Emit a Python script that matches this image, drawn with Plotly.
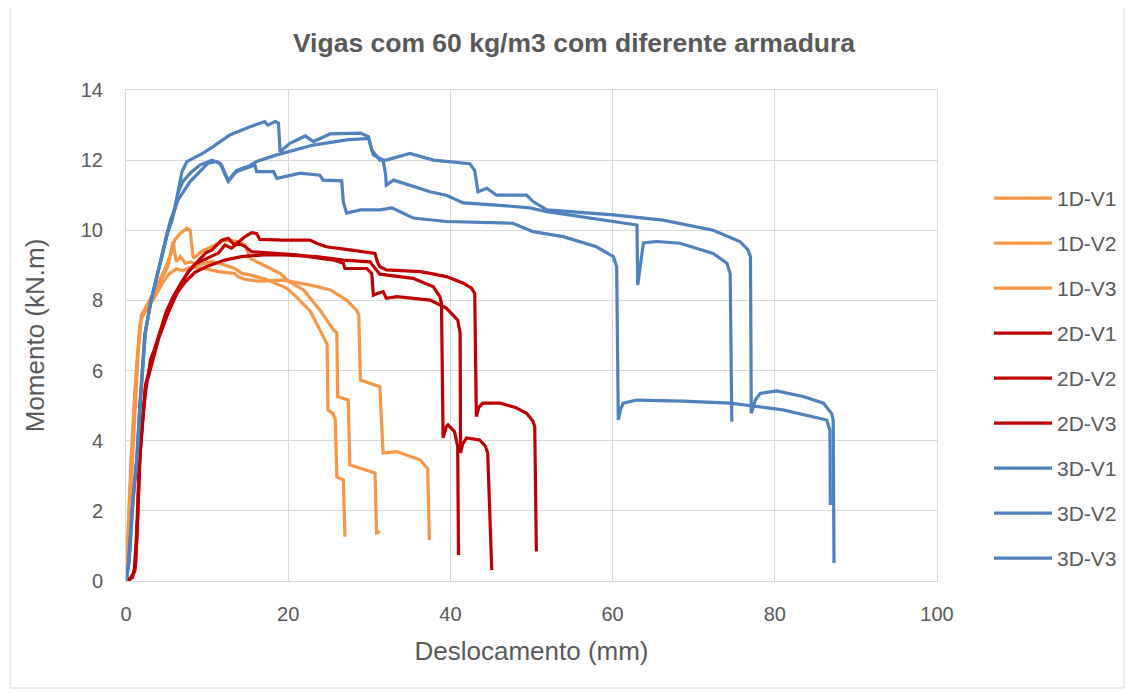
import plotly.graph_objects as go

# deslocamento (mm) / momento (kN.m)
d1_v1_x = [0, 0.3, 0.7, 1.1, 1.5, 1.9, 2.5, 3.2, 4.0, 4.6, 5.2, 5.8, 6.2, 6.7, 7.3, 8.0, 8.9, 10.6, 12.2, 13.4,
           14.3, 15.4, 17.3, 19.8, 21.0, 22.7, 23.9, 24.5, 24.8, 24.9, 25.5, 25.8, 26.0, 26.8, 27.0]
d1_v1_y = [0, 1.5, 3.6, 5.4, 6.7, 7.6, 7.8, 8.1, 8.4, 8.7, 9.0, 9.68, 9.11, 9.25, 9.06, 9.1, 9.01, 9.11, 9.01, 8.91,
           8.77, 8.72, 8.6, 8.35, 8.1, 7.7, 7.16, 6.85, 6.75, 4.88, 4.78, 4.6, 2.97, 2.88, 1.26]

d1_v2_x = [0, 0.25, 0.6, 1.0, 1.3, 1.7, 2.2, 2.8, 3.6, 4.4, 5.0, 5.6, 6.0, 6.7, 7.5, 7.9, 8.1, 8.3, 9.3, 10.6,
           11.8, 12.6, 13.8, 14.7, 15.3, 17.8, 19.0, 20.2, 21.9, 23.9, 25.6, 26.0, 26.1, 27.4, 27.6, 30.7,
           30.9, 31.3]
d1_v2_y = [0, 1.4, 3.4, 5.0, 6.1, 7.3, 7.7, 7.95, 8.3, 8.7, 9.0, 9.39, 9.72, 9.91, 10.06, 10.01, 9.58, 9.2, 9.39,
           9.53, 9.68, 9.72, 9.68, 9.58, 9.2, 8.91, 8.77, 8.53, 8.3, 7.73, 7.16, 7.07, 5.26, 5.16, 3.31, 3.08,
           1.37, 1.41]

d1_v3_x = [0, 0.3, 0.7, 1.1, 1.5, 1.9, 2.4, 3.0, 3.8, 4.5, 5.3, 6.2, 7.0, 8.0, 9.7, 11.4, 13.4, 13.8, 14.7,
           16.3, 19.4, 22.7, 25.2, 27.2, 28.4, 28.7, 28.9, 31.3, 31.7, 33.4, 36.3, 37.2, 37.4]
d1_v3_y = [0, 1.3, 3.3, 5.1, 6.5, 7.5, 7.7, 7.9, 8.2, 8.5, 8.75, 8.9, 8.85, 8.95, 8.91, 8.82, 8.77, 8.68, 8.6,
           8.55, 8.58, 8.44, 8.3, 8.01, 7.73, 7.6, 5.73, 5.54, 3.65, 3.69, 3.45, 3.2, 1.17]

d2_v1_x = [0, 0.6, 1.1, 1.4, 1.7, 2.1, 2.4, 2.8, 3.0, 3.5, 3.9, 4.4, 5.0, 5.8, 6.8, 7.8, 8.8, 9.8, 10.6, 11.8,
           12.6, 13.4, 14.7, 15.5, 16.1, 16.5, 19.4, 22.7, 23.5, 24.7, 27.6, 30.7, 31.0, 31.3, 32.1, 36.3,
           37.5, 39.5, 41.6, 42.6, 43.0, 43.2, 43.5, 44.0, 46.1, 48.0, 49.4, 50.2, 50.4, 50.6]
d2_v1_y = [0, 0.1, 0.3, 1.5, 3.6, 4.9, 5.6, 5.9, 6.3, 6.6, 6.9, 7.3, 7.7, 8.1, 8.5, 8.85, 9.1, 9.35, 9.44, 9.72,
           9.77, 9.58, 9.82, 9.93, 9.91, 9.74, 9.72, 9.72, 9.63, 9.53, 9.44, 9.34, 9.1, 8.96, 8.87, 8.82,
           8.77, 8.68, 8.49, 8.35, 8.2, 4.69, 4.95, 5.07, 5.07, 4.95, 4.78, 4.55, 4.4, 0.84]

d2_v2_x = [0, 0.5, 1.0, 1.3, 1.6, 2.0, 2.4, 3.0, 3.8, 4.6, 5.8, 6.4, 7.4, 8.5, 10.1, 12.2, 14.2, 17.0, 19.4,
           23.5, 26.8, 30.1, 30.6, 31.3, 35.4, 37.9, 38.7, 38.9, 39.1, 39.5, 39.7, 40.5, 40.9, 41.0]
d2_v2_y = [0, 0.05, 0.25, 1.3, 3.2, 4.5, 5.5, 6.2, 6.8, 7.35, 7.96, 8.25, 8.55, 8.8, 8.98, 9.15, 9.25, 9.3, 9.3,
           9.25, 9.15, 9.1, 8.95, 8.75, 8.63, 8.39, 8.11, 7.92, 4.08, 4.4, 4.45, 4.26, 3.83, 0.74]

d2_v3_x = [0, 0.8, 1.2, 1.5, 1.8, 2.2, 2.6, 3.2, 4.0, 4.8, 5.6, 6.6, 7.6, 8.6, 10.1, 11.4, 12.2, 13.0, 13.8,
           14.6, 15.5, 18.4, 21.0, 25.6, 26.8, 27.0, 29.7, 30.3, 30.5, 31.0, 31.7, 32.1, 33.4, 37.5, 39.5,
           40.9, 41.2, 41.25, 41.5, 42.0, 43.6, 44.3, 44.6, 45.1]
d2_v3_y = [0, 0.1, 0.5, 2.2, 3.9, 5.0, 5.7, 6.2, 6.9, 7.4, 7.9, 8.4, 8.8, 9.05, 9.2, 9.35, 9.58, 9.49, 9.63,
           9.55, 9.39, 9.34, 9.3, 9.15, 9.06, 8.91, 8.91, 8.77, 8.15, 8.2, 8.25, 8.06, 8.11, 8.01, 7.78,
           7.44, 7.07, 3.65, 3.9, 4.08, 4.02, 3.85, 3.65, 0.31]

d3_v1_x = [0, 0.3, 0.8, 1.3, 1.7, 2.3, 3.0, 3.6, 4.3, 5.0, 5.5, 6.0, 6.5, 6.9, 7.5, 8.3, 9.5, 10.7, 12.8, 15.3,
           16.5, 17.1, 17.5, 18.4, 18.8, 19.0, 20.2, 22.1, 23.1, 25.2, 28.9, 29.9, 30.3, 31.3, 32.1, 35.0,
           37.9, 42.4, 43.0, 43.4, 44.5, 45.7, 49.4, 50.2, 51.9, 60.1, 66.2, 72.4, 75.7, 76.7, 77.0, 77.1,
           77.6, 78.2, 80.2, 83.5, 86.0, 87.0, 87.2, 87.3]
d3_v1_y = [0, 0.5, 2.2, 3.4, 5.0, 7.0, 7.9, 8.5, 9.2, 9.9, 10.3, 10.6, 11.2, 11.67, 11.96, 12.06, 12.2, 12.38,
           12.72, 12.95, 13.06, 13.1, 13.0, 13.1, 13.06, 12.24, 12.48, 12.69, 12.53, 12.75, 12.77, 12.67,
           12.29, 12.0, 12.0, 12.19, 12.0, 11.9, 11.7, 11.1, 11.2, 11.0, 11.0, 10.82, 10.58, 10.44, 10.29,
           10.0, 9.68, 9.44, 9.25, 4.78, 5.16, 5.35, 5.42, 5.26, 5.07, 4.78, 4.6, 0.51]

d3_v2_x = [0, 0.4, 0.9, 1.4, 1.8, 2.4, 3.1, 3.7, 4.4, 5.1, 5.7, 6.4, 7.0, 8.0, 9.1, 10.6, 11.6, 12.6, 13.6,
           15.3, 15.9, 16.1, 18.2, 18.6, 20.2, 21.5, 23.9, 24.3, 26.6, 26.8, 27.2, 28.9, 31.3, 32.8, 35.4,
           39.5, 47.7, 50.2, 53.9, 58.0, 60.1, 60.5, 60.7, 61.0, 61.3, 63.0, 68.7, 74.5, 77.3, 81.0, 86.4,
           86.8, 86.85]
d3_v2_y = [0, 0.6, 2.4, 3.6, 5.2, 7.1, 8.0, 8.6, 9.3, 9.9, 10.3, 11.06, 11.39, 11.65, 11.86, 12.0, 11.91, 11.39,
           11.67, 11.8, 11.86, 11.67, 11.67, 11.48, 11.57, 11.63, 11.57, 11.43, 11.41, 10.8, 10.49, 10.58,
           10.58, 10.64, 10.35, 10.25, 10.2, 9.96, 9.82, 9.53, 9.25, 8.96, 4.59, 4.9, 5.07, 5.16, 5.13, 5.07,
           4.99, 4.88, 4.59, 4.3, 2.17]

d3_v3_x = [0, 0.35, 0.85, 1.35, 1.75, 2.35, 3.05, 3.65, 4.35, 5.05, 5.6, 6.4, 7.9, 10.1, 11.2, 11.8, 12.6,
           13.6, 15.3, 16.1, 18.6, 21.5, 23.1, 27.2, 29.9, 30.5, 31.7, 32.0, 32.1, 33.0, 35.0, 36.3, 37.5,
           39.5, 41.6, 45.7, 49.8, 51.9, 60.1, 63.0, 63.1, 63.8, 65.4, 68.3, 72.4, 74.1, 74.5, 74.7]
d3_v3_y = [0, 0.5, 2.3, 3.5, 5.1, 7.05, 7.95, 8.55, 9.25, 9.9, 10.3, 10.86, 11.39, 11.91, 11.96, 11.85, 11.42,
           11.7, 11.85, 11.96, 12.15, 12.34, 12.43, 12.58, 12.62, 12.15, 12.0, 11.6, 11.29, 11.43, 11.29,
           11.2, 11.1, 11.0, 10.78, 10.72, 10.64, 10.53, 10.25, 10.15, 8.44, 9.64, 9.68, 9.63, 9.34, 9.06,
           8.77, 4.54]

names = ["1D-V1", "1D-V2", "1D-V3", "2D-V1", "2D-V2", "2D-V3", "3D-V1", "3D-V2", "3D-V3"]
xs = [d1_v1_x, d1_v2_x, d1_v3_x, d2_v1_x, d2_v2_x, d2_v3_x, d3_v1_x, d3_v2_x, d3_v3_x]
ys = [d1_v1_y, d1_v2_y, d1_v3_y, d2_v1_y, d2_v2_y, d2_v3_y, d3_v1_y, d3_v2_y, d3_v3_y]
colors = ["#F79646"] * 3 + ["#C00000"] * 3 + ["#4F81BD"] * 3

grey = "#595959"
fig = go.Figure()
for name, x, y, c in zip(names, xs, ys, colors):
    fig.add_trace(go.Scatter(x=x, y=y, name=name, mode="lines", legendgroup=name,
                             line=dict(color=c, width=3.2)))

# page has an 8px body margin, so figure px = page px - 8
OFF = 8
L, R, T, B = 126 - OFF, 937 - OFF, 90 - OFF, 581 - OFF
FW, FH = 1134, 693
W, H = R - L, B - T
fig.add_shape(type="rect", xref="paper", yref="paper",
              x0=(10 - OFF - L) / W, x1=(1124 - OFF - L) / W,
              y0=(B - (688 - OFF)) / H, y1=(B - (6 - OFF)) / H,
              line=dict(color="#D9D9D9", width=1), layer="below")

fig.update_layout(
    width=FW, height=FH,
    margin=dict(l=L, r=FW - R, t=T, b=FH - B),
    paper_bgcolor="white", plot_bgcolor="white",
    font=dict(family="Liberation Sans, Arial, sans-serif", color=grey, size=21),
    title=dict(text="<b>Vigas com 60 kg/m3 com diferente armadura</b>", x=(574 - OFF) / FW, xanchor="center",
               y=1 - (43 - OFF) / FH, yanchor="middle", font=dict(size=26.5, color=grey)),
    legend=dict(x=(989 - OFF - L) / W, xanchor="left", y=(B - (178 - OFF)) / H, yanchor="top",
                font=dict(size=21, color=grey), tracegroupgap=14.7, itemwidth=58,
                bgcolor="rgba(0,0,0,0)"),
    showlegend=True,
)
fig.update_xaxes(range=[0, 100], dtick=20, tick0=0, showgrid=True, gridcolor="#D9D9D9", gridwidth=1,
                 zeroline=False, showline=True, linecolor="#D9D9D9", mirror=True, ticks="",
                 tickfont=dict(size=20, color=grey), ticklabelstandoff=15,
                 title=dict(text="Deslocamento (mm)", font=dict(size=26, color=grey), standoff=17))
fig.update_yaxes(range=[0, 14], dtick=2, tick0=0, showgrid=True, gridcolor="#D9D9D9", gridwidth=1,
                 zeroline=False, showline=True, linecolor="#D9D9D9", mirror=True, ticks="",
                 tickfont=dict(size=20, color=grey), ticklabelstandoff=18,
                 title=dict(text="Momento (kN.m)", font=dict(size=26, color=grey), standoff=28))

fig.write_html("out.html")
